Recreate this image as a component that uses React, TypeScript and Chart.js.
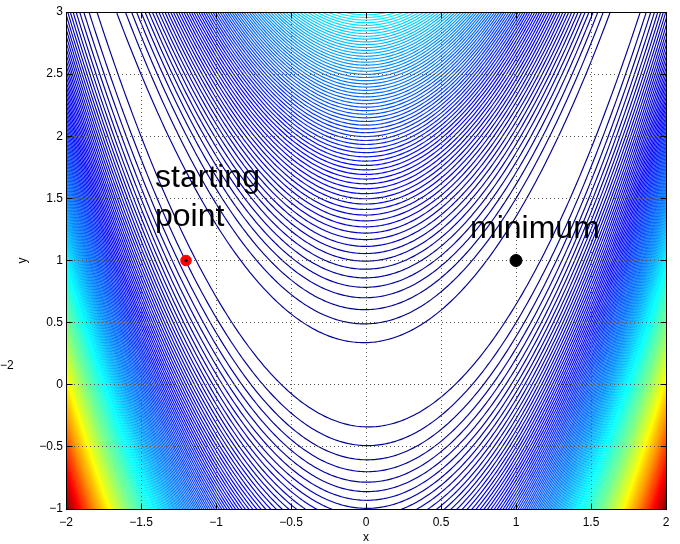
import React, { useEffect, useRef } from "react";
import { Chart, registerables } from "chart.js";

Chart.register(...registerables);

const FONT = '"Liberation Sans", Arial, Helvetica, sans-serif';

// Axes
const X_MIN = -2;
const X_MAX = 2;
const Y_MIN = -1;
const Y_MAX = 3;
const X_TICKS = [-2, -1.5, -1, -0.5, 0, 0.5, 1, 1.5, 2];
const Y_TICKS = [-1, -0.5, 0, 0.5, 1, 1.5, 2, 2.5, 3];
const X_TITLE = "x";
const Y_TITLE = "y";
const STRAY_LABEL = "\u22122";

// Rosenbrock function f(x,y) = (A - x)^2 + B (y - x^2)^2, contoured at regular levels
const ROSEN_A = 1;
const ROSEN_B = 100;
const LEVEL_STEP = 12.5;
const LEVEL_COUNT = 200;
const COLOR_LIMITS = [0, 2509];

// Marked points
const START_POINT = [{ x: -1.2, y: 1 }];
const MINIMUM_POINT = [{ x: 1, y: 1 }];

// Text annotations
const ANNOTATIONS = [
  { lines: ["starting", "point"], x: -1.4, y: 1.5 },
  { lines: ["minimum"], x: 0.7, y: 1.25 },
];

const CONTOUR_LEVELS: number[] = Array.from({ length: LEVEL_COUNT }, (_, i) => (i + 1) * LEVEL_STEP);

function jetColor(level: number): string {
  const m = 64;
  let idx = Math.floor(((level - COLOR_LIMITS[0]) / (COLOR_LIMITS[1] - COLOR_LIMITS[0])) * m) + 1;
  idx = Math.max(1, Math.min(m, idx));
  const u = (j: number) => (j < 1 || j > 47 ? 0 : j <= 16 ? j / 16 : j <= 31 ? 1 : (48 - j) / 16);
  const r = u(idx - 24);
  const g = u(idx - 8);
  const b = u(idx + 8);
  return `rgb(${Math.round(r * 255)},${Math.round(g * 255)},${Math.round(b * 255)})`;
}

type P = { x: number; y: number };

function samplePath(level: number, t0: number, t1: number, n: number): P[] {
  const r = Math.sqrt(level);
  const s = Math.sqrt(level / ROSEN_B);
  const pts: P[] = [];
  for (let i = 0; i <= n; i++) {
    const t = t0 + ((t1 - t0) * i) / n;
    const x = ROSEN_A - r * Math.cos(t);
    const y = x * x + s * Math.sin(t);
    pts.push({ x, y });
  }
  return pts;
}

function contourPaths(level: number): P[][] {
  const r = Math.sqrt(level);
  const m = 0.02;
  const clamp = (v: number) => Math.max(-1, Math.min(1, v));
  const tA = Math.acos(clamp((ROSEN_A - (X_MIN - m)) / r));
  const tB = Math.acos(clamp((ROSEN_A - (X_MAX + m)) / r));
  let paths: P[][];
  if (tA < 1e-9 && tB > Math.PI - 1e-9) {
    paths = [samplePath(level, 0, 2 * Math.PI, 700)];
  } else if (tA < 1e-9) {
    paths = [samplePath(level, -tB, tB, 600)];
  } else {
    paths = [samplePath(level, tA, tB, 320), samplePath(level, -tB, -tA, 320)];
  }
  return paths.filter((p) => p.some((q) => q.y >= Y_MIN - 0.05 && q.y <= Y_MAX + 0.05));
}

function drawChrome(chart: any, withGrid: boolean) {
  const { ctx, chartArea: a, scales } = chart;
  const xs = scales.x;
  const ys = scales.y;
  ctx.save();
  if (withGrid) {
    ctx.beginPath();
    ctx.rect(a.left, a.top, a.right - a.left, a.bottom - a.top);
    ctx.clip();
    ctx.strokeStyle = "#555";
    ctx.lineWidth = 1;
    ctx.setLineDash([1, 3]);
    for (const v of X_TICKS) {
      if (v === X_MIN || v === X_MAX) continue;
      const px = Math.floor(xs.getPixelForValue(v)) + 0.5;
      ctx.beginPath();
      ctx.moveTo(px, a.top);
      ctx.lineTo(px, a.bottom);
      ctx.stroke();
    }
    for (const v of Y_TICKS) {
      if (v === Y_MIN || v === Y_MAX) continue;
      const py = Math.floor(ys.getPixelForValue(v)) + 0.5;
      ctx.beginPath();
      ctx.moveTo(a.left, py);
      ctx.lineTo(a.right, py);
      ctx.stroke();
    }
  } else {
    ctx.strokeStyle = "#000";
    ctx.lineWidth = 1;
    ctx.setLineDash([]);
    const L = a.left + 0.5, R = a.right + 0.5, T = a.top + 0.5, B = a.bottom + 0.5;
    ctx.strokeRect(L, T, R - L, B - T);
    const tl = 6;
    ctx.beginPath();
    for (const v of X_TICKS) {
      const px = Math.floor(xs.getPixelForValue(v)) + 0.5;
      ctx.moveTo(px, B);
      ctx.lineTo(px, B - tl);
      ctx.moveTo(px, T);
      ctx.lineTo(px, T + tl);
    }
    for (const v of Y_TICKS) {
      const py = Math.floor(ys.getPixelForValue(v)) + 0.5;
      ctx.moveTo(L, py);
      ctx.lineTo(L + tl, py);
      ctx.moveTo(R, py);
      ctx.lineTo(R - tl, py);
    }
    ctx.stroke();

    // annotations
    ctx.fillStyle = "#000";
    ctx.font = `32px ${FONT}`;
    ctx.textAlign = "left";
    ctx.textBaseline = "alphabetic";
    const lineH = 39;
    for (const ann of ANNOTATIONS) {
      const px = xs.getPixelForValue(ann.x) - 1;
      const py = ys.getPixelForValue(ann.y);
      const top = py - (ann.lines.length * lineH) / 2;
      ann.lines.forEach((line, i) => {
        ctx.fillText(line, px, top + i * lineH + 28);
      });
    }
    ctx.font = `12px ${FONT}`;
    ctx.textBaseline = "middle";
    ctx.fillText(STRAY_LABEL, 0, 366);
  }
  ctx.restore();
}

const chromePlugin = {
  id: "matlabChrome",
  beforeDatasetDraw(chart: any, args: any) {
    if (args.index === 2) drawChrome(chart, true);
  },
  afterDatasetsDraw(chart: any) {
    drawChrome(chart, false);
  },
};

const fmt = (v: number | string) => {
  const n = Number(v);
  return (n < 0 ? "\u2212" : "") + String(Math.abs(n));
};

export default function App() {
  const ref = useRef<HTMLCanvasElement | null>(null);
  useEffect(() => {
    if (!ref.current) return;
    const datasets: any[] = [
      {
        data: MINIMUM_POINT,
        showLine: false,
        pointRadius: 6,
        pointBorderWidth: 1,
        pointBackgroundColor: "#000",
        pointBorderColor: "#000",
      },
      {
        data: START_POINT,
        showLine: false,
        pointRadius: 1.5,
        pointBorderWidth: 0,
        pointBackgroundColor: "#000",
        pointBorderColor: "#000",
      },
      {
        data: START_POINT,
        showLine: false,
        pointRadius: 5.3,
        pointBorderWidth: 1,
        pointBackgroundColor: "#ff0000",
        pointBorderColor: "#ff0000",
      },
    ];
    for (const level of CONTOUR_LEVELS) {
      const color = jetColor(level);
      for (const path of contourPaths(level)) {
        datasets.push({
          data: path,
          showLine: true,
          borderColor: color,
          borderWidth: 1.15,
          pointRadius: 0,
          pointHoverRadius: 0,
          tension: 0,
          fill: false,
        });
      }
    }
    const chart = new Chart(ref.current, {
      type: "scatter",
      data: { datasets },
      plugins: [chromePlugin],
      options: {
        animation: false,
        responsive: false,
        devicePixelRatio: 1,
        events: [],
        parsing: false,
        layout: { padding: { top: 12, right: 14, left: 0, bottom: 0 } },
        plugins: { legend: { display: false }, tooltip: { enabled: false } },
        scales: {
          x: {
            type: "linear",
            position: "bottom",
            min: X_MIN,
            max: X_MAX,
            afterFit: (s: any) => {
              s.height = 35;
            },
            afterBuildTicks: (s: any) => {
              s.ticks = X_TICKS.map((v) => ({ value: v }));
            },
            ticks: {
              callback: fmt,
              color: "#000",
              font: { family: FONT, size: 12 },
              padding: 6,
              maxRotation: 0,
              autoSkip: false,
            },
            grid: { display: false, drawTicks: false },
            border: { display: false },
            title: {
              display: true,
              text: X_TITLE,
              color: "#000",
              font: { family: FONT, size: 12, lineHeight: 1 },
              padding: { top: 0, bottom: 0 },
            },
          },
          y: {
            type: "linear",
            position: "left",
            min: Y_MIN,
            max: Y_MAX,
            afterFit: (s: any) => {
              s.width = 66;
            },
            afterBuildTicks: (s: any) => {
              s.ticks = Y_TICKS.map((v) => ({ value: v }));
            },
            ticks: {
              callback: fmt,
              color: "#000",
              font: { family: FONT, size: 12 },
              padding: 3,
              autoSkip: false,
            },
            grid: { display: false, drawTicks: false },
            border: { display: false },
            title: {
              display: true,
              text: Y_TITLE,
              color: "#000",
              font: { family: FONT, size: 12, lineHeight: 1 },
              padding: { top: 17, bottom: 0 },
            },
          },
        },
      } as any,
    });
    return () => chart.destroy();
  }, []);
  return (
    <div style={{ position: "absolute", left: 0, top: 0, width: 680, height: 544, background: "#fff" }}>
      <canvas ref={ref} width={680} height={544} style={{ width: 680, height: 544, display: "block" }} />
    </div>
  );
}
